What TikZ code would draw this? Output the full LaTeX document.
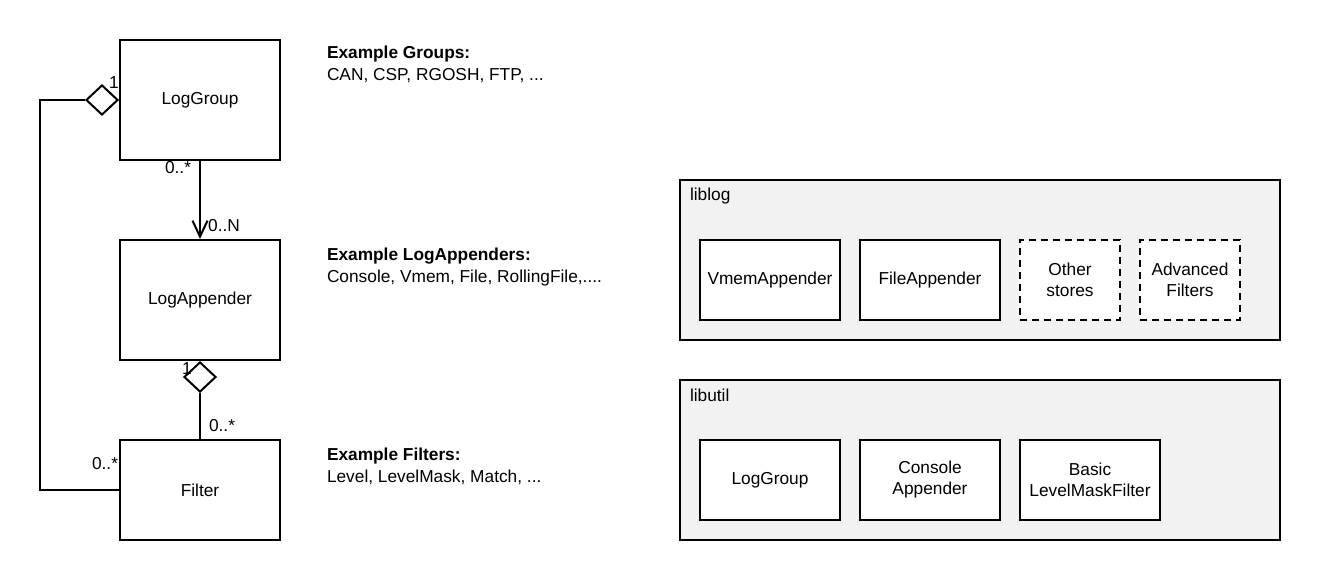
\documentclass[tikz,border=0pt]{standalone}
\usepackage{fontspec}
\setmainfont{Liberation Sans}
\usetikzlibrary{arrows.meta,shapes.geometric}
\definecolor{grpfill}{HTML}{F2F2F2}
\begin{document}
\begin{tikzpicture}[x=1pt,y=-1pt,line width=2pt,
  font=\fontsize{17.3}{21}\selectfont,
  cls/.style={draw,fill=white,minimum width=160pt,minimum height=120pt,inner sep=0pt},
  ibox/.style={draw,fill=white,minimum height=80pt,inner sep=0pt,align=center},
  dbox/.style={ibox,dash pattern=on 7pt off 5pt},
  grpbox/.style={draw,fill=grpfill,minimum width=600pt,minimum height=160pt,inner sep=0pt},
  dmd/.style={diamond,draw,fill=white,minimum width=32pt,minimum height=30pt,inner sep=0pt},
  lbl/.style={inner sep=0pt},
  ex/.style={inner sep=0pt,anchor=base west}]
\useasboundingbox (0,0) rectangle (1320,580);

% classes
\node[cls] (lg) at (200,100) {LogGroup};
\node[cls] (la) at (200,300) {LogAppender};
\node[cls,minimum height=100pt] (fi) at (200,490) {Filter};

% diamonds
\node[dmd,anchor=east] (d1) at (lg.west) {};
\node[dmd,anchor=north] (d2) at (la.south) {};

% connectors
\coordinate (c1) at (40,100);
\draw (d1.west) -- (c1) |- (fi.west);
\draw[-{Straight Barb[length=16pt,width=15pt]}] (lg.south) -- (la.north);
\draw (d2.south) -- (fi.north);

% multiplicities
\node[lbl] (m1) at (114,83) {1};
\node[lbl] (m2) at (178,168) {0..*};
\node[lbl] (m3) at (224,226) {0..N};
\node[lbl] (m4) at (187,369) {1};
\node[lbl] (m5) at (222,426) {0..*};
\node[lbl,anchor=east] (m6) at (119,464) {0..*};

% examples
\node[ex] (e1a) at (326,59) {\textbf{Example Groups:}};
\node[ex] (e1b) at (326,81) {CAN, CSP, RGOSH, FTP, ...};
\node[ex] (e2a) at (326,260) {\textbf{Example LogAppenders:}};
\node[ex] (e2b) at (326,282) {Console, Vmem, File, RollingFile,....};
\node[ex] (e3a) at (326,460) {\textbf{Example Filters:}};
\node[ex] (e3b) at (326,482) {Level, LevelMask, Match, ...};

% liblog
\node[grpbox] (liblog) at (980,260) {};
\node[ex] (liblogt) at (689,201) {liblog};
\node[ibox,minimum width=140pt] (vmem) at (770,280) {VmemAppender};
\node[ibox,minimum width=140pt] (file) at (930,280) {FileAppender};
\node[dbox,minimum width=100pt] (other) at (1070,280) {Other\\stores};
\node[dbox,minimum width=100pt] (adv) at (1190,280) {Advanced\\Filters};

% libutil
\node[grpbox] (libutil) at (980,460) {};
\node[ex] (libutilt) at (689,401) {libutil};
\node[ibox,minimum width=140pt] (ulg) at (770,480) {LogGroup};
\node[ibox,minimum width=140pt] (ucon) at (930,480) {Console\\Appender};
\node[ibox,minimum width=140pt] (ubas) at (1090,480) {Basic\\LevelMaskFilter};
\end{tikzpicture}
\end{document}
